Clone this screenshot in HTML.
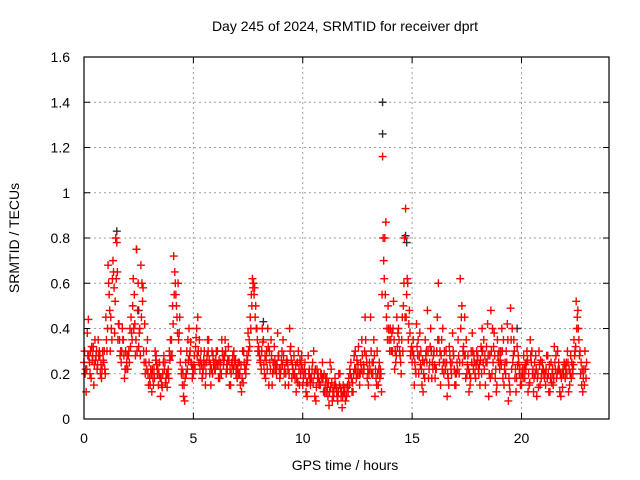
<!DOCTYPE html>
<html><head><meta charset="utf-8"><style>
body{margin:0;background:#fff;}
svg{display:block;font-family:"Liberation Sans",sans-serif;}
</style></head><body>
<svg id="chart" width="640" height="480">
<rect width="640" height="480" fill="#fff"/>
<text x="345" y="31" text-anchor="middle" font-size="14">Day 245 of 2024, SRMTID for receiver dprt</text>
<text x="19" y="238" text-anchor="middle" font-size="14" transform="rotate(-90 19 238)">SRMTID / TECUs</text>
<text x="345" y="470" text-anchor="middle" font-size="14">GPS time / hours</text>
<g id="grid"></g><g id="axes"></g><g id="marks"></g>
<rect x="84" y="57" width="525" height="362" fill="none" stroke="#000" stroke-width="1.2"/>
</svg>
<script>
const xTicks=[0,5,10,15,20];
const yTicks=[0,0.2,0.4,0.6,0.8,1,1.2,1.4,1.6];
const yTickLabels=["0","0.2","0.4","0.6","0.8","1","1.2","1.4","1.6"];
const step=0.1;
const red1=[.25,.12,.44,.30,.28,.35,.22,.30,.18,.25,
.45,.68,.30,.62,.38,.78,.42,.25,.35,.30,
.22,.40,.35,.55,.75,.32,.68,.58,.20,.35,
.18,.12,.22,.28,.15,.10,.20,.25,.14,.30,
.35,.72,.55,.60,.25,.15,.08,.30,.40,.25,
.20,.32,.45,.22,.18,.30,.25,.35,.15,.28,
.22,.30,.18,.35,.26,.20,.32,.15,.28,.24,
.18,.25,.12,.30,.20,.38,.45,.62,.58,.40,
.30,.22,.35,.18,.40,.25,.15,.32,.20,.28,
.22,.35,.15,.25,.40,.18,.28,.12,.30,.20,
.15,.25,.10,.22,.18,.30,.08,.20,.15,.25,
.12,.18,.06,.22,.10,.15,.08,.20,.05,.12,
.10,.18,.25,.12,.30,.20,.15,.35,.22,.28,
.15,.45,.20,.10,.30,.25,.12,.70,.87,.50,
.40,.30,.22,.45,.35,.20,.50,.93,.60,.38,
.25,.15,.42,.20,.30,.12,.35,.48,.25,.18,
.30,.22,.60,.15,.40,.25,.10,.32,.20,.28,
.15,.35,.62,.25,.45,.20,.12,.30,.22,.18,
.28,.15,.40,.22,.32,.10,.48,.25,.18,.35,
.22,.40,.15,.30,.08,.49,.25,.18,.32,.20,
.15,.28,.22,.12,.35,.20,.25,.10,.30,.18,
.22,.15,.28,.12,.20,.32,.18,.25,.10,.22,
.18,.30,.15,.25,.35,.52,.40,.20,.12,.30];
const red2=[.20,.38,.25,.32,.15,.28,.35,.20,.30,.22,
.30,.55,.40,.65,.80,.35,.28,.40,.18,.25,
.30,.45,.62,.28,.48,.40,.60,.25,.30,.15,
.22,.18,.30,.20,.25,.15,.28,.18,.22,.35,
.50,.65,.45,.38,.20,.10,.25,.35,.30,.18,
.28,.40,.25,.30,.22,.15,.35,.20,.30,.25,
.30,.18,.25,.28,.35,.22,.15,.25,.30,.20,
.25,.15,.30,.22,.28,.35,.55,.60,.50,.30,
.25,.40,.20,.30,.15,.35,.25,.22,.38,.18,
.30,.20,.25,.15,.32,.22,.18,.25,.15,.28,
.20,.12,.28,.15,.25,.10,.22,.15,.20,.12,
.18,.10,.25,.08,.15,.12,.20,.10,.15,.08,
.15,.22,.12,.28,.18,.32,.25,.20,.45,.18,
.25,.20,.35,.18,.15,.22,1.16,.80,.40,.35,
.30,.52,.25,.38,.28,.45,.80,.55,.42,.30,
.35,.22,.28,.38,.15,.25,.30,.18,.40,.22,
.18,.45,.25,.35,.20,.30,.18,.25,.38,.15,
.25,.20,.45,.32,.18,.28,.15,.38,.25,.30,
.20,.32,.25,.15,.42,.28,.20,.38,.12,.25,
.30,.18,.25,.42,.15,.22,.35,.12,.28,.15,
.22,.18,.30,.15,.25,.12,.28,.20,.15,.25,
.18,.28,.12,.25,.15,.22,.30,.12,.20,.25,
.25,.12,.28,.20,.30,.45,.28,.15,.22,.18];
const red3=[.30,.22,.28,.18,.32,.26,.24,.28,.22,.30,
.35,.60,.45,.70,.52,.65,.35,.30,.28,.22,
.28,.32,.50,.42,.30,.38,.45,.30,.25,.20,
.15,.22,.18,.24,.20,.18,.25,.16,.20,.26,
.28,.55,.50,.35,.30,.20,.18,.22,.28,.24,
.24,.36,.30,.26,.20,.24,.28,.26,.22,.24,
.26,.24,.22,.30,.28,.24,.26,.20,.22,.26,
.22,.20,.18,.25,.24,.30,.40,.58,.45,.35,
.28,.30,.24,.26,.32,.22,.20,.26,.24,.22,
.26,.28,.20,.22,.30,.24,.20,.18,.22,.24,
.18,.20,.16,.18,.22,.20,.14,.18,.20,.18,
.15,.14,.12,.16,.12,.14,.12,.14,.10,.14,
.14,.15,.18,.20,.22,.24,.20,.28,.30,.25,
.20,.30,.25,.22,.20,.18,.55,.62,.45,.40,
.35,.40,.30,.32,.30,.35,.60,.45,.35,.28,
.30,.25,.32,.28,.22,.20,.28,.30,.32,.25,
.24,.30,.35,.28,.25,.22,.20,.28,.25,.22,
.20,.28,.40,.30,.28,.24,.20,.25,.28,.24,
.22,.26,.30,.28,.25,.20,.30,.32,.22,.28,
.26,.30,.22,.25,.18,.35,.28,.22,.24,.22,
.20,.22,.25,.20,.28,.22,.20,.18,.24,.20,
.20,.22,.20,.18,.22,.25,.20,.22,.18,.20,
.22,.25,.20,.22,.28,.40,.35,.25,.18,.22];
const red4=[.22,.28,.20,.26,.24,.30,.28,.24,.26,.20,
.40,.48,.35,.58,.62,.42,.30,.35,.22,.28,
.25,.38,.40,.35,.60,.28,.52,.42,.22,.25,
.20,.15,.26,.22,.18,.14,.22,.20,.18,.28,
.42,.60,.38,.45,.22,.15,.20,.26,.34,.22,
.22,.28,.35,.24,.26,.20,.30,.24,.20,.22,
.24,.26,.20,.24,.30,.26,.22,.24,.26,.22,
.20,.24,.16,.22,.26,.32,.50,.55,.40,.32,
.26,.34,.28,.22,.30,.28,.22,.24,.28,.20,
.24,.22,.26,.20,.26,.20,.24,.16,.26,.22,
.22,.16,.20,.18,.16,.22,.18,.16,.18,.20,
.12,.16,.14,.12,.18,.10,.15,.12,.12,.10,
.12,.20,.16,.22,.26,.20,.22,.24,.35,.22,
.22,.25,.28,.15,.22,.20,.80,.55,.35,.30,
.38,.35,.28,.40,.25,.30,.45,.62,.48,.32,
.28,.20,.35,.24,.26,.18,.25,.22,.30,.28,
.22,.35,.30,.22,.30,.25,.15,.22,.30,.20,
.22,.25,.50,.28,.35,.22,.18,.30,.20,.26,
.24,.20,.35,.25,.28,.18,.40,.28,.15,.30,
.24,.35,.20,.35,.12,.40,.30,.18,.25,.18,
.18,.24,.26,.16,.30,.18,.22,.14,.26,.22,
.20,.18,.24,.16,.18,.28,.22,.20,.14,.24,
.20,.22,.18,.24,.32,.48,.30,.22,.15,.25];
const blackTimes=[13.65,13.65,1.5,2.4,14.7,14.75,19.8,2.5,8.2,18.2];
const blackValues=[1.40,1.26,0.83,0.75,0.81,0.78,0.40,0.48,0.43,0.30];

const X=t=>84+t*(525/24);
const Y=v=>419-v*(362/1.6);
const NS="http://www.w3.org/2000/svg";
function mk(tag,attrs,parent){const e=document.createElementNS(NS,tag);for(const k in attrs)e.setAttribute(k,attrs[k]);parent.appendChild(e);return e;}
const grid=document.getElementById('grid'),axes=document.getElementById('axes'),marks=document.getElementById('marks');
xTicks.forEach(t=>{
  const x=X(t);
  if(t>0){const g=mk('line',{x1:x,x2:x,y1:57,y2:419,stroke:'#a0a0a0','stroke-dasharray':'2,3'},grid);
  
  }
  mk('line',{x1:x,x2:x,y1:419,y2:413,stroke:'#000'},axes);
  mk('line',{x1:x,x2:x,y1:57,y2:63,stroke:'#000'},axes);
  const l=mk('text',{x:x,y:443,'text-anchor':'middle','font-size':14},axes);
  l.textContent=t;
  
  
});
yTicks.forEach((v,i)=>{
  const y=Y(v);
  if(i>0&&i<yTicks.length-1){const g=mk('line',{x1:84,x2:609,y1:y,y2:y,stroke:'#a0a0a0','stroke-dasharray':'2,3'},grid);
  
  }
  mk('line',{x1:84,x2:90,y1:y,y2:y,stroke:'#000'},axes);
  mk('line',{x1:603,x2:609,y1:y,y2:y,stroke:'#000'},axes);
  const l=mk('text',{x:70,y:y+5,'text-anchor':'end','font-size':14},axes);
  l.textContent=yTickLabels[i];
  
  
});
function plus(t,v,color,name){
  const x=X(t),y=Y(v);
  const p=mk('path',{d:`M${x-4},${y}H${x+4}M${x},${y-4}V${y+4}`,stroke:color,'stroke-width':1.4,fill:'none'},marks);
  
  
}
blackTimes.forEach((t,i)=>plus(t,blackValues[i],'#303030','black-series-point'));
red1.forEach((v,i)=>plus(i*step,v,'#ff0000','red-series-point'));
red2.forEach((v,i)=>plus(i*step+0.05,v,'#ff0000','red-series-point'));
red3.forEach((v,i)=>plus(i*step+0.025,v,'#ff0000','red-series-point'));
red4.forEach((v,i)=>plus(i*step+0.075,v,'#ff0000','red-series-point'));
</script>
</body></html>
